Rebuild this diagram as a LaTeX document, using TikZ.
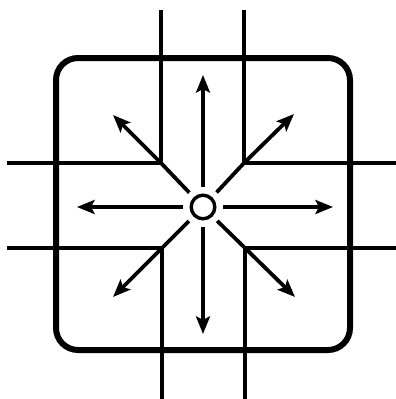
\documentclass[tikz,border=0pt]{standalone}
\usetikzlibrary{arrows.meta}

\begin{document}
\begin{tikzpicture}[x=0.25mm,y=-0.25mm]
\tikzset{wall/.style={line width=1mm},
  flow/.style={line width=0.95mm,shorten <=1.6mm,-{Stealth[length=4.4mm,width=3.5mm,inset=0.9mm]}}}
\useasboundingbox (0,0) rectangle (396,399);
\draw[line width=1.5mm,rounded corners=5.5mm] (56,58) rectangle (350,350);
\node[circle,draw,line width=0.85mm,minimum size=5.9mm,inner sep=0pt] (hub) at (203,207) {};
\foreach \n/\x/\y in {tl/161/163,tr/244/163,bl/162/248,br/245/248}{\coordinate (\n) at (\x,\y);}
\foreach \n/\x/\y in {n/203/75,s/203/334,w/77/207,e/333/207,nw/113/115,ne/294/114,sw/113/297,se/295/297}{\coordinate (\n) at (\x,\y);}
% street edges
\draw[wall] (161,10)--(tl)--(7,163);
\draw[wall] (244,10)--(tr)--(396,163);
\draw[wall] (162,399)--(bl)--(7,248);
\draw[wall] (245,399)--(br)--(396,248);
% arrows out of the hub
\foreach \t in {n,s,w,e}{\draw[flow] (hub)--(\t);}
\draw[flow] (hub)--(tl)--(nw);
\draw[flow] (hub)--(tr)--(ne);
\draw[flow] (hub)--(bl)--(sw);
\draw[flow] (hub)--(br)--(se);
\end{tikzpicture}
\end{document}
